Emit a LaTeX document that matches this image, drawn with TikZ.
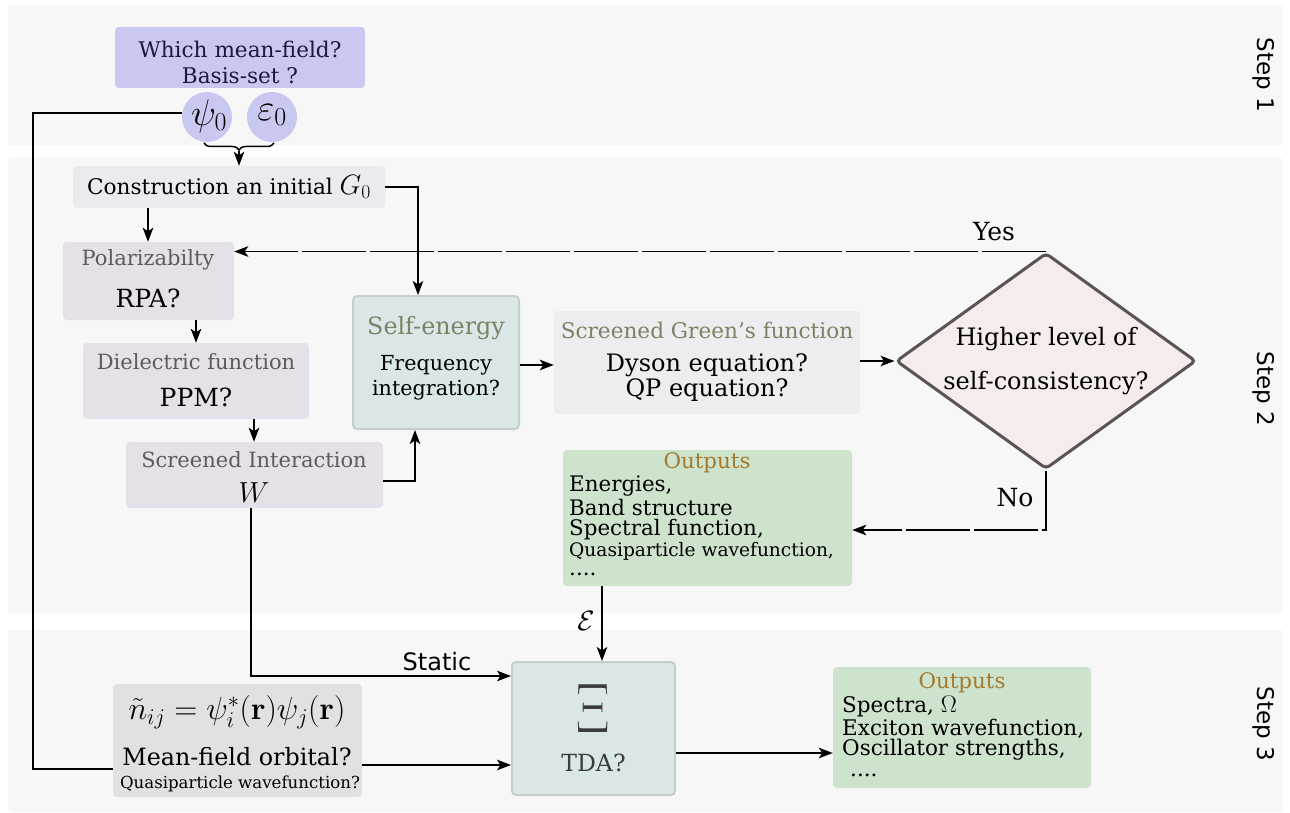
\RequirePackage{fix-cm}
\documentclass[tikz,border=0pt]{standalone}
\usepackage[no-math]{fontspec}
\setmainfont{DejaVu Serif}
\setsansfont{DejaVu Sans}
\usepackage{graphicx}
\usetikzlibrary{arrows.meta,shapes.geometric,decorations.pathreplacing}
\definecolor{bandc}{HTML}{F7F7F7}
\definecolor{lav}{HTML}{C8C8F0}
\definecolor{navy}{HTML}{1A1A3C}
\definecolor{gzero}{HTML}{ECEAEE}
\definecolor{lil}{HTML}{E6E1E8}
\definecolor{greytxt}{HTML}{5E5A60}
\definecolor{teal}{HTML}{D9E7E7}
\definecolor{tealb}{HTML}{C4CECE}
\definecolor{olive}{HTML}{7C8264}
\definecolor{sgc}{HTML}{EEECEF}
\definecolor{diaf}{HTML}{F6ECEC}
\definecolor{diab}{HTML}{5A5454}
\definecolor{outg}{HTML}{CDE3CC}
\definecolor{brown}{HTML}{A37A2E}
\definecolor{mfoc}{HTML}{E1E1E1}
\definecolor{tdac}{HTML}{3C3C3C}
\newcommand{\fs}[1]{\fontsize{#1}{#1}\selectfont}
\begin{document}
\begin{tikzpicture}[x=1pt,y=-1pt,
  box/.style={rounded corners=4pt, inner sep=0pt, draw=none},
  txt/.style={inner sep=0pt, anchor=center},
  lt/.style={inner sep=0pt, anchor=west},
  arr/.style={line width=1.9pt, -{Stealth[length=14pt,width=10.5pt,inset=3.5pt]}},
  conn/.style={line width=1.9pt},
  dsh/.style={dash pattern=on 64pt off 4pt},
  steplab/.style={inner sep=0pt, font=\sffamily\fs{23}, rotate=-90}
]
\useasboundingbox (0,0) rectangle (1290,813);
\fill[white] (0,0) rectangle (1290,813);
% bands
\fill[bandc, rounded corners=3pt] (8,5) rectangle (1283,145);
\fill[bandc, rounded corners=3pt] (8,158) rectangle (1283,613);
\fill[bandc, rounded corners=3pt] (8,630) rectangle (1283,812);
\node[steplab] (s1) at (1264,75) {Step 1};
\node[steplab] (s2) at (1264,389) {Step 2};
\node[steplab] (s3) at (1264,724) {Step 3};

% boxes
\node[box, fill=lav, minimum width=250pt, minimum height=61pt] (mf) at (240,57.5) {};
\node[circle, fill=lav, inner sep=0pt, minimum size=50pt] (psi) at (207,117) {};
\node[circle, fill=lav, inner sep=0pt, minimum size=50pt] (eps) at (272,117) {};
\node[box, fill=gzero, minimum width=312pt, minimum height=42pt] (g0) at (229,187) {};
\node[box, fill=lil, minimum width=171pt, minimum height=78pt] (poly) at (148.5,281) {};
\node[box, fill=lil, minimum width=226pt, minimum height=76pt] (diel) at (196,381) {};
\node[box, fill=lil, minimum width=257pt, minimum height=66pt] (scr) at (254.5,475) {};
\node[box, fill=teal, draw=tealb, line width=2pt, minimum width=166pt, minimum height=133pt] (se) at (436,362.5) {};
\node[box, fill=sgc, minimum width=306pt, minimum height=103pt] (sg) at (707,362.5) {};
\node[diamond, fill=diaf, draw=diab, line width=3pt, rounded corners=4pt, inner sep=0pt, minimum width=300pt, minimum height=216pt] (dia) at (1046,361) {};
\node[box, fill=outg, minimum width=289pt, minimum height=136pt] (out1) at (707.5,518) {};
\node[box, fill=teal, draw=tealb, line width=2pt, minimum width=163pt, minimum height=133pt] (xi) at (593.5,728.5) {};
\node[box, fill=mfoc, minimum width=249pt, minimum height=113pt] (mfo) at (237.5,740.5) {};
\node[box, fill=outg, minimum width=258pt, minimum height=121pt] (out2) at (962,727.5) {};

% texts
\node[txt, font=\fs{21.6}, text=navy] (mf1) at (240,49) {Which mean-field?};
\node[txt, font=\fs{21.6}, text=navy] (mf2) at (240,76) {Basis-set ?};
\node[txt, font=\fs{37}] (psit) at (209,116) {$\psi_0$};
\node[txt, font=\fs{37}] (epst) at (272,115) {$\varepsilon_0$};
\node[txt, font=\fs{21.6}] (g0t) at (229,187) {Construction an initial {\fs{28}$G_0$}};
\node[txt, font=\fs{21}, text=greytxt] (polyt) at (148,260) {Polarizabilty};
\node[txt, font=\fs{25}] (rpat) at (148,298) {RPA?};
\node[txt, font=\fs{21}, text=greytxt] (dielt) at (196,362) {Dielectric function};
\node[txt, font=\fs{25}] (ppmt) at (196,397) {PPM?};
\node[txt, font=\fs{21}, text=greytxt] (scrt) at (254,460) {Screened Interaction};
\node[txt, font=\fs{29}] (wt) at (254,493) {$W$};
\node[txt, font=\fs{23.8}, text=olive] (set) at (436,328) {Self-energy};
\node[txt, font=\fs{20.7}] (se2) at (436,365) {Frequency};
\node[txt, font=\fs{20.7}] (se3) at (436,390) {integration?};
\node[txt, font=\fs{21.6}, text=olive] (sgt) at (707,330) {Screened Green's function};
\node[txt, font=\fs{24}] (sg2) at (707,365) {Dyson equation?};
\node[txt, font=\fs{24}] (sg3) at (707,390) {QP equation?};
\node[txt, font=\fs{24}] (d1) at (1046,339) {Higher level of};
\node[txt, font=\fs{24}] (d2) at (1046,383) {self-consistency?};
\node[txt, font=\fs{21.4}, text=brown] (o1t) at (707,463) {Outputs};
\node[lt, font=\fs{21.4}] (o1a) at (569,486) {Energies,};
\node[lt, font=\fs{21.4}] (o1b) at (569,508) {Band structure};
\node[lt, font=\fs{21.4}] (o1c) at (569,530) {Spectral function,};
\node[lt, font=\fs{18.6}] (o1d) at (569,551) {Quasiparticle wavefunction,};
\node[lt, font=\fs{21.4}] (o1e) at (569,574) {....};
\node[txt, font=\fs{54}, text=tdac] (xit) at (593.5,709) {\scalebox{1}[1.3]{$\Xi$}};
\node[txt, font=\fs{23.6}, text=tdac] (tda) at (593.5,763) {TDA?};
\node[txt, font=\fs{32}] (eq) at (237,712) {$\tilde{n}_{ij}=\psi_i^{*}(\mathbf{r})\psi_j(\mathbf{r})$};
\node[txt, font=\fs{23.8}] (mfo2) at (237,757) {Mean-field orbital?};
\node[txt, font=\fs{16.6}] (mfo3) at (240,784) {Quasiparticle wavefunction?};
\node[txt, font=\fs{21.4}, text=brown] (o2t) at (962,683) {Outputs};
\node[lt, font=\fs{21.5}] (o2a) at (842,707) {Spectra, {\fs{24}$\Omega$}};
\node[lt, font=\fs{21.5}] (o2b) at (842,729) {Exciton wavefunction,};
\node[lt, font=\fs{21.5}] (o2c) at (842,750) {Oscillator strengths,};
\node[lt, font=\fs{21.5}] (o2d) at (850,775) {....};
\node[txt, font=\fs{25}] (yes) at (994,232) {Yes};
\node[txt, font=\fs{25}] (no) at (1015,498) {No};
\node[txt, font=\sffamily\fs{24}] (static) at (437,662) {Static};
\node[txt, font=\fs{28}] (epsl) at (586,621) {$\mathcal{E}$};

% coordinates
\coordinate (c2) at (33,769);
\coordinate (bt) at (239,151);
\coordinate (c3) at (418,0);
\coordinate (c4) at (148,0);
\coordinate (c5) at (196,0);
\coordinate (c6) at (254,0);
\coordinate (c7) at (0,481);
\coordinate (c8) at (415,0);
\coordinate (c9) at (0,365);
\coordinate (c11) at (0,530);
\coordinate (c12) at (602,0);
\coordinate (c13) at (251,0);
\coordinate (c14) at (0,676);
\coordinate (c15) at (0,765);
\coordinate (c16) at (0,753);

% connectors
\draw[conn] (psi.170) -| (c2) -- (mfo.west |- c2);
\draw[decorate, decoration={brace, mirror, amplitude=7pt}, line width=1.5pt] (204,143) -- (274,143);
\draw[arr] (bt) -- (bt |- g0.north);
\draw[arr] (g0.east) -| (se.north -| c3);
\draw[arr] (g0.south -| c4) -- (poly.north -| c4);
\draw[arr] (poly.south -| c5) -- (diel.north -| c5);
\draw[arr] (diel.south -| c6) -- (scr.north -| c6);
\draw[arr] (scr.east |- c7) -| (se.south -| c8);
\draw[arr] (se.east |- c9) -- (sg.west |- c9);
\draw[arr] (sg.east |- dia.west) -- (dia.west);
\draw[arr, dsh] (dia.north) -- (poly.east |- dia.north);
\draw[arr, dsh] (dia.south) |- (out1.east |- c11);
\draw[arr] (out1.south -| c12) -- (xi.north -| c12);
\draw[arr] (scr.south -| c13) |- (xi.west |- c14);
\draw[arr] (mfo.east |- c15) -- (xi.west |- c15);
\draw[arr] (xi.east |- c16) -- (out2.west |- c16);
\end{tikzpicture}
\end{document}
